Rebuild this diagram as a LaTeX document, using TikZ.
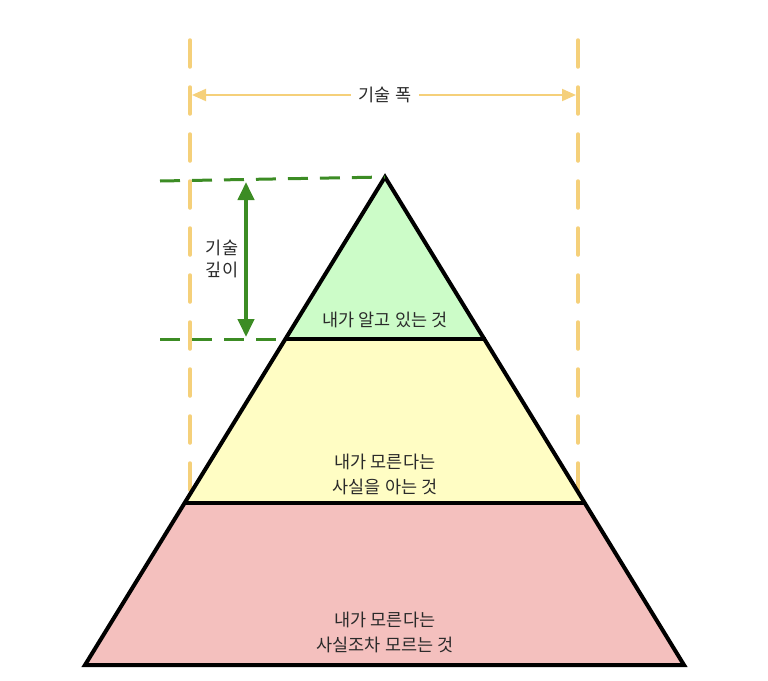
\documentclass[tikz,border=0pt]{standalone}
\usepackage{fontspec}
\setmainfont{Noto Sans CJK KR}
\usetikzlibrary{arrows.meta}
\definecolor{ylw}{HTML}{F5D07A}
\definecolor{grn}{HTML}{3C8C24}
\definecolor{lgreen}{HTML}{CCFCC8}
\definecolor{lyellow}{HTML}{FFFDC4}
\definecolor{lpink}{HTML}{F4C0BE}
\definecolor{txt}{HTML}{2A2A2A}
\tikzset{
  lbl/.style={font=\fontsize{17.5}{25}\selectfont, text=txt, align=center, inner sep=2pt},
  ydash/.style={draw=ylw, line width=3.5pt, dash pattern=on 27pt off 20pt, line cap=round},
  gdash/.style={draw=grn, line width=3pt, dash pattern=on 20pt off 12pt},
  layer/.style={draw=black, line width=4pt, line join=miter},
}
\begin{document}
\begin{tikzpicture}[x=1pt,y=-1pt]
\useasboundingbox (0,0) rectangle (768,680);
% pyramid layers
\coordinate (apex) at (385,177);
\coordinate (l1) at (285,339);
\coordinate (r1) at (486,339);
\coordinate (l2) at (185,503);
\coordinate (r2) at (585,503);
\coordinate (l3) at (85,665);
\coordinate (r3) at (684,665);
\fill[lpink] (l2) -- (r2) -- (r3) -- (l3) -- cycle;
\fill[lyellow] (l1) -- (r1) -- (r2) -- (l2) -- cycle;
\fill[lgreen] (apex) -- (r1) -- (l1) -- cycle;
% yellow dashed verticals
\coordinate (yl0) at (190,40);
\coordinate (yl1) at (190,495);
\coordinate (yr0) at (578,40);
\coordinate (yr1) at (578,495);
\draw[ydash] (yl0) -- (yl1);
\draw[ydash] (yr0) -- (yr1);
% outlines
\draw[layer] (apex) -- (r3) -- (l3) -- cycle;
\draw[layer] (l1) -- (r1);
\draw[layer] (l2) -- (r2);
% green dashed horizontals
\coordinate (g0) at (160,181);
\coordinate (g1) at (160,339);
\draw[gdash] (g0) -- (apex);
\draw[gdash] (g1) -- (l1);
% width arrow
\coordinate (wa) at (192,95);
\coordinate (wb) at (576,95);
\draw[ylw, line width=2pt, {Triangle[length=14pt,width=12pt]}-{Triangle[length=14pt,width=12pt]}] (wa) -- (wb);
\node[lbl, fill=white, inner xsep=8pt] (wl) at (385,95) {기술 폭};
% depth arrow
\coordinate (da) at (246,182);
\coordinate (db) at (246,337);
\draw[grn, line width=4pt, {Triangle[length=18pt,width=16pt]}-{Triangle[length=18pt,width=16pt]}] (da) -- (db);
\node[lbl, font=\fontsize{17.5}{22}\selectfont] (dl) at (222,259) {기술\\깊이};
% layer labels
\node[lbl] (t1) at (385,320) {내가 알고 있는 것};
\node[lbl] (t2) at (385,474) {내가 모른다는\\사실을 아는 것};
\node[lbl] (t3) at (385,632) {내가 모른다는\\사실조차 모르는 것};
\end{tikzpicture}
\end{document}
